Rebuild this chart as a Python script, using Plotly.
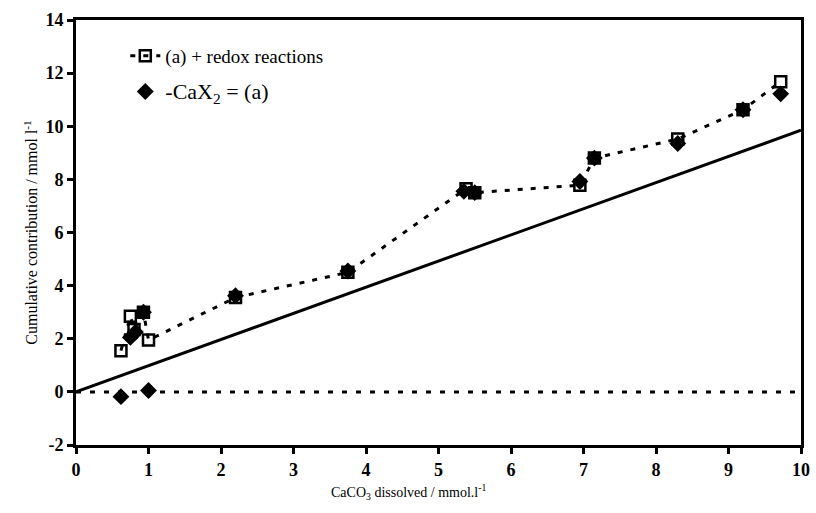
import plotly.graph_objects as go

# (a) + redox reactions : cumulative contribution vs CaCO3 dissolved
redox_x = [0.62, 0.75, 0.80, 0.93, 1.00, 2.20, 3.75, 5.38, 5.50, 6.95, 7.15, 8.30, 9.20, 9.72]
redox_y = [1.55, 2.85, 2.35, 3.00, 1.95, 3.55, 4.50, 7.65, 7.50, 7.78, 8.80, 9.52, 10.62, 11.68]

# -CaX2 = (a)
cax_x = [0.62, 1.00, 0.75, 0.82, 0.93, 2.20, 3.75, 5.35, 5.50, 6.95, 7.15, 8.30, 9.20, 9.72]
cax_y = [-0.18, 0.05, 2.05, 2.25, 3.00, 3.62, 4.55, 7.55, 7.50, 7.92, 8.80, 9.35, 10.62, 11.22]

# 1:1 reference line and zero baseline
ref_x = [0, 10]
ref_y = [0, 9.85]
zero_x = [0, 10]
zero_y = [0, 0]

x_ticks = list(range(0, 11))
y_ticks = list(range(-2, 15, 2))
y_tick_text = [str(v) for v in y_ticks]  # plain hyphen for "-2"

serif = "Liberation Serif, Times New Roman, serif"

fig = go.Figure()

fig.add_trace(go.Scatter(
    x=ref_x, y=ref_y, mode="lines",
    line=dict(color="black", width=3),
    showlegend=False, hoverinfo="skip",
))
fig.add_trace(go.Scatter(
    x=zero_x, y=zero_y, mode="lines",
    line=dict(color="black", width=3, dash="5px,9px"),
    showlegend=False, hoverinfo="skip",
))
fig.add_trace(go.Scatter(
    x=redox_x, y=redox_y, mode="lines+markers",
    name="(a) + redox reactions",
    legendgroup="redox", legendrank=1,
    line=dict(color="black", width=3, dash="5px,8px"),
    marker=dict(symbol="square-open", size=11, color="black",
                line=dict(color="black", width=2.5)),
))
fig.add_trace(go.Scatter(
    x=cax_x, y=cax_y, mode="markers",
    name='<span style="font-size:22px">-CaX<sub>2</sub> = (a)</span>',
    legendgroup="cax", legendrank=2,
    marker=dict(symbol="diamond", size=13, color="black",
                line=dict(color="black", width=0)),
))

axis_common = dict(
    showgrid=False, zeroline=False,
    showline=True, linecolor="black", linewidth=3, mirror=True,
    ticks="outside", ticklen=6, tickwidth=3, tickcolor="black",
    tickfont=dict(family=serif, size=18, color="black", weight="bold"),
)

fig.update_layout(
    width=816, height=513,
    margin=dict(l=76, r=6, t=20, b=68),
    paper_bgcolor="white", plot_bgcolor="white",
    font=dict(family=serif, color="black"),
    xaxis=dict(range=[0, 10], tickvals=x_ticks, **axis_common),
    yaxis=dict(
        range=[-2, 14], tickvals=y_ticks, ticktext=y_tick_text,
        title=dict(text="Cumulative contribution / mmol l<sup>-1</sup>",
                   font=dict(family=serif, size=16), standoff=4),
        **axis_common,
    ),
    legend=dict(
        x=0.068, y=0.96, xanchor="left", yanchor="top",
        traceorder="grouped",
        bgcolor="rgba(0,0,0,0)",
        font=dict(family=serif, size=19, color="black"),
        itemwidth=30, tracegroupgap=8,
    ),
)

# x-axis title, set slightly left of the plot centre
fig.add_annotation(
    text="CaCO<sub>3</sub> dissolved / mmol.l<sup>-1</sup>",
    xref="paper", yref="paper", x=0.459, y=-0.11,
    xanchor="center", yanchor="middle", showarrow=False,
    font=dict(family=serif, size=14, color="black"),
)

fig.write_html("out.html")
